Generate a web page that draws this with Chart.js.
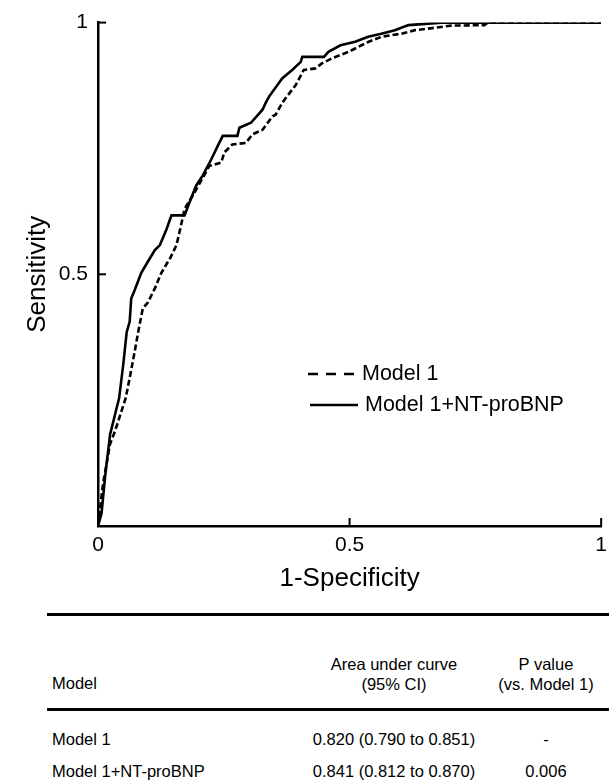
<!DOCTYPE html>
<html>
<head>
<meta charset="utf-8">
<script src="https://cdn.jsdelivr.net/npm/chart.js@4.4.0/dist/chart.umd.min.js"></script>
<style>
  body { margin: 0; background: #fff; font-family: "Liberation Sans", Arial, sans-serif; color: #000; }
  #wrap { position: relative; width: 614px; height: 781px; overflow: hidden; }
  #box { position: absolute; left: 0; top: 0; width: 614px; height: 600px; }
  .rule { position: absolute; left: 47px; width: 562px; background: #000; }
  .t { position: absolute; font-size: 16.5px; white-space: nowrap; line-height: 20px; }
  .c { transform: translateX(-50%); text-align: center; }
</style>
</head>
<body>
<div id="wrap">
  <div id="box"><canvas id="roc"></canvas></div>
  <div id="table"></div>
</div>
<script>
// ===== data =====
const seriesNames = ['Model 1', 'Model 1+NT-proBNP'];

// Model 1 (dashed)
const m1X = [0, 0.010, 0.024, 0.034, 0.055, 0.063, 0.073, 0.080, 0.089, 0.099, 0.113, 0.126, 0.139, 0.142,
  0.156, 0.165, 0.172, 0.188, 0.205, 0.221, 0.245, 0.251, 0.267, 0.294, 0.307, 0.327, 0.347, 0.353, 0.366,
  0.373, 0.393, 0.409, 0.432, 0.445, 0.465, 0.498, 0.518, 0.538, 0.564, 0.603, 0.630, 0.656, 0.702, 0.768,
  0.775, 1];
const m1Y = [0, 0.084, 0.163, 0.189, 0.254, 0.294, 0.347, 0.386, 0.432, 0.444, 0.472, 0.503, 0.525, 0.529,
  0.558, 0.597, 0.630, 0.656, 0.686, 0.715, 0.722, 0.742, 0.758, 0.761, 0.778, 0.787, 0.814, 0.817, 0.840,
  0.850, 0.876, 0.906, 0.909, 0.919, 0.929, 0.942, 0.952, 0.962, 0.972, 0.978, 0.985, 0.988, 0.994, 0.995,
  1, 1];

// Model 1 + NT-proBNP (solid)
const m2X = [0, 0.007, 0.014, 0.024, 0.042, 0.050, 0.057, 0.063, 0.066, 0.073, 0.086, 0.099, 0.113, 0.123,
  0.136, 0.146, 0.172, 0.182, 0.195, 0.208, 0.225, 0.238, 0.248, 0.277, 0.281, 0.304, 0.327, 0.333, 0.340,
  0.366, 0.386, 0.403, 0.406, 0.449, 0.458, 0.482, 0.511, 0.537, 0.563, 0.590, 0.617, 0.683, 1];
const m2Y = [0, 0.025, 0.097, 0.182, 0.254, 0.319, 0.385, 0.406, 0.452, 0.469, 0.503, 0.525, 0.548, 0.558,
  0.589, 0.617, 0.617, 0.643, 0.676, 0.696, 0.728, 0.755, 0.775, 0.775, 0.791, 0.801, 0.827, 0.840, 0.853,
  0.889, 0.906, 0.922, 0.932, 0.932, 0.942, 0.955, 0.962, 0.972, 0.978, 0.985, 0.995, 1, 1];

const xTicks = [0, 0.5, 1];
const yTicks = [0.5, 1];

// table
const tableHead = ['Model', 'Area under curve', '(95% CI)', 'P value', '(vs. Model 1)'];
const tableModels = ['Model 1', 'Model 1+NT-proBNP'];
const tableAuc = ['0.820 (0.790 to 0.851)', '0.841 (0.812 to 0.870)'];
const tableP = ['-', '0.006'];

// ===== chart =====
const FONT = '"Liberation Sans", Arial, sans-serif';
const toPts = (xs, ys) => xs.map((x, i) => ({ x, y: ys[i] }));

// 向內的刻度線 + 圖例
const extras = {
  id: 'extras',
  afterDraw(chart) {
    const { ctx } = chart;
    const xs = chart.scales.x, ys = chart.scales.y;
    ctx.save();
    ctx.strokeStyle = '#000';
    ctx.lineWidth = 2;
    xTicks.filter(v => v > 0).forEach(v => {
      const px = xs.getPixelForValue(v);
      ctx.beginPath(); ctx.moveTo(px, ys.bottom); ctx.lineTo(px, ys.bottom - 8); ctx.stroke();
    });
    yTicks.forEach(v => {
      const py = ys.getPixelForValue(v);
      ctx.beginPath(); ctx.moveTo(xs.left, py); ctx.lineTo(xs.left + 8, py); ctx.stroke();
    });

    // legend
    ctx.font = '21.5px ' + FONT;
    ctx.fillStyle = '#000';
    ctx.textBaseline = 'middle';
    ctx.lineWidth = 2.5;
    ctx.setLineDash([10, 8]);
    ctx.beginPath(); ctx.moveTo(308, 374); ctx.lineTo(360, 374); ctx.stroke();
    ctx.setLineDash([]);
    ctx.beginPath(); ctx.moveTo(310, 405); ctx.lineTo(358, 405); ctx.stroke();
    ctx.fillText(seriesNames[0], 362, 374);
    ctx.fillText(seriesNames[1], 365, 405);
    ctx.restore();
  }
};

new Chart(document.getElementById('roc'), {
  type: 'line',
  data: {
    datasets: [
      {
        label: seriesNames[0],
        data: toPts(m1X, m1Y),
        borderColor: '#000',
        borderWidth: 2.6,
        borderDash: [6, 3],
        pointRadius: 0,
        tension: 0,
        fill: false,
      },
      {
        label: seriesNames[1],
        data: toPts(m2X, m2Y),
        borderColor: '#000',
        borderWidth: 2.6,
        pointRadius: 0,
        tension: 0,
        fill: false,
      }
    ]
  },
  options: {
    responsive: true,
    maintainAspectRatio: false,
    animation: false,
    layout: { padding: { top: 19, right: 7, left: 0, bottom: 0 } },
    plugins: { legend: { display: false }, tooltip: { enabled: false } },
    scales: {
      x: {
        type: 'linear', min: 0, max: 1,
        afterBuildTicks: s => { s.ticks = xTicks.map(v => ({ value: v })); },
        afterFit: s => { s.height = 74; },
        ticks: { color: '#000', padding: 7, font: { size: 21, family: FONT }, callback: v => String(v) },
        grid: { drawOnChartArea: false, drawTicks: false },
        border: { display: true, color: '#000', width: 2.5 },
        title: { display: true, text: '1-Specificity', color: '#000', font: { size: 26, family: FONT }, padding: { top: 0, bottom: 6 } }
      },
      y: {
        type: 'linear', min: 0, max: 1,
        afterBuildTicks: s => { s.ticks = yTicks.map(v => ({ value: v })); },
        afterFit: s => { s.width = 98; },
        ticks: { color: '#000', padding: 10, font: { size: 21, family: FONT }, callback: v => String(v) },
        grid: { drawOnChartArea: false, drawTicks: false },
        border: { display: true, color: '#000', width: 2.5 },
        title: { display: true, text: 'Sensitivity', color: '#000', font: { size: 26, family: FONT }, padding: { top: 22, bottom: 0 } }
      }
    }
  },
  plugins: [extras]
});

// ===== table =====
(function buildTable() {
  const t = document.getElementById('table');
  const add = (html) => t.insertAdjacentHTML('beforeend', html);
  add(`<div class="rule" style="top:613px;height:2.5px"></div>`);
  add(`<div class="rule" style="top:708px;height:3px"></div>`);
  add(`<div class="t" style="left:52px;top:673px">${tableHead[0]}</div>`);
  add(`<div class="t c" style="left:394px;top:654px">${tableHead[1]}<br>${tableHead[2]}</div>`);
  add(`<div class="t c" style="left:546px;top:654px">${tableHead[3]}<br>${tableHead[4]}</div>`);
  const rowTop = [729, 761];
  tableModels.forEach((m, i) => {
    add(`<div class="t" style="left:52px;top:${rowTop[i]}px">${m}</div>`);
    add(`<div class="t c" style="left:394px;top:${rowTop[i]}px">${tableAuc[i]}</div>`);
    add(`<div class="t c" style="left:546px;top:${rowTop[i]}px">${tableP[i]}</div>`);
  });
})();
</script>
</body>
</html>
